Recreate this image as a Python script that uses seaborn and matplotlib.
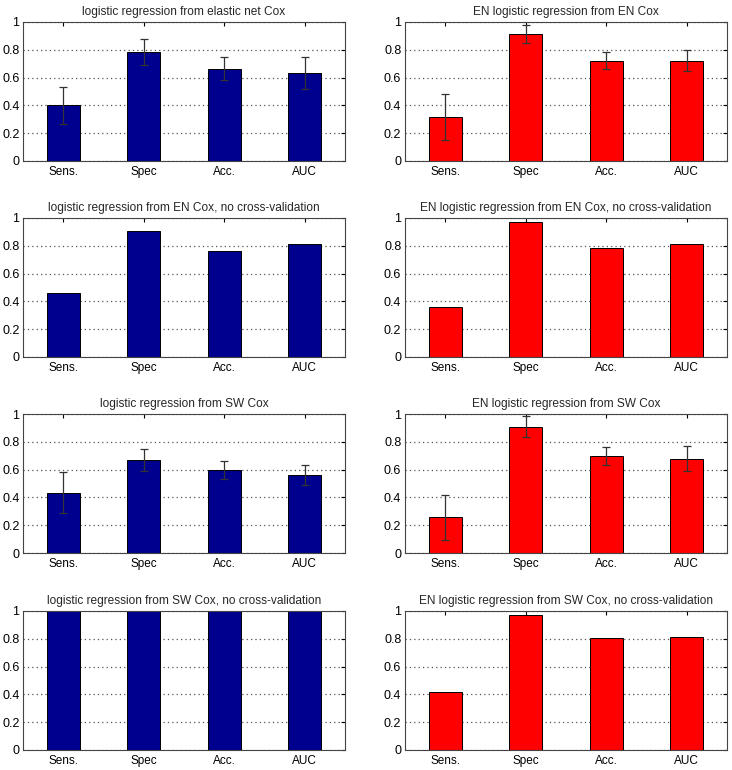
import numpy as np
import matplotlib
matplotlib.use('Agg')
import matplotlib.pyplot as plt
import seaborn as sns

labels = ['Sens.', 'Spec', 'Acc.', 'AUC']

titles = ['logistic regression from elastic net Cox',
          'EN logistic regression from EN Cox',
          'logistic regression from EN Cox, no cross-validation',
          'EN logistic regression from EN Cox, no cross-validation',
          'logistic regression from SW Cox',
          'EN logistic regression from SW Cox',
          'logistic regression from SW Cox, no cross-validation',
          'EN logistic regression from SW Cox, no cross-validation']

# bar heights
lr_en_cox = [0.40, 0.785, 0.665, 0.635]
en_en_cox = [0.315, 0.915, 0.722, 0.722]
lr_en_cox_nocv = [0.46, 0.905, 0.763, 0.81]
en_en_cox_nocv = [0.36, 0.968, 0.782, 0.81]
lr_sw_cox = [0.433, 0.672, 0.598, 0.56]
en_sw_cox = [0.258, 0.91, 0.698, 0.678]
lr_sw_cox_nocv = [1.0, 1.0, 1.0, 1.0]
en_sw_cox_nocv = [0.415, 0.972, 0.805, 0.81]

# error bar half-widths (None = no error bars)
lr_en_cox_err = [0.135, 0.095, 0.085, 0.115]
en_en_cox_err = [0.164, 0.066, 0.062, 0.075]
lr_sw_cox_err = [0.147, 0.079, 0.064, 0.074]
en_sw_cox_err = [0.161, 0.075, 0.062, 0.09]

values = [lr_en_cox, en_en_cox, lr_en_cox_nocv, en_en_cox_nocv,
          lr_sw_cox, en_sw_cox, lr_sw_cox_nocv, en_sw_cox_nocv]
errors = [lr_en_cox_err, en_en_cox_err, None, None,
          lr_sw_cox_err, en_sw_cox_err, None, None]

blue = '#00008f'
red = '#ff0000'

sns.set_style('white')
plt.rcParams['font.family'] = ['Liberation Sans', 'DejaVu Sans']

fig = plt.figure(figsize=(7.32, 7.70), dpi=100)
lefts = [0.0314, 0.553]
bottoms = [0.791, 0.5364, 0.2818, 0.026]
w, h = 0.44, 0.1805

for i in range(8):
    r, c = i // 2, i % 2
    ax = fig.add_axes([lefts[c], bottoms[r], w, h])
    col = blue if c == 0 else red
    sns.barplot(x=labels, y=values[i], color=col, width=0.41,
                edgecolor='black', linewidth=0.7, saturation=1, ax=ax)
    if errors[i] is not None:
        ax.errorbar(np.arange(4), values[i], yerr=errors[i], fmt='none',
                    ecolor='#333333', elinewidth=0.9, capsize=3, capthick=0.9)
    ax.set_ylim(0, 1)
    ax.set_xlim(-0.5, 3.5)
    ax.set_yticks([0, 0.2, 0.4, 0.6, 0.8, 1])
    ax.set_yticklabels(['0', '0.2', '0.4', '0.6', '0.8', '1'])
    ax.yaxis.grid(True, linestyle=(0, (1, 2.5)), color='#555555', linewidth=0.9)
    ax.set_axisbelow(True)
    ax.tick_params(direction='in', length=3, top=True, right=True,
                   labelsize=8.5, colors='black')
    ax.tick_params(axis='y', pad=2.5, labelsize=9)
    for s in ax.spines.values():
        s.set_color('#444444')
        s.set_linewidth(0.8)
    ax.set_title(titles[i], fontsize=8.6, pad=5)
    ax.set_xlabel('')
    ax.set_ylabel('')

fig.savefig('out.png', dpi=100)
